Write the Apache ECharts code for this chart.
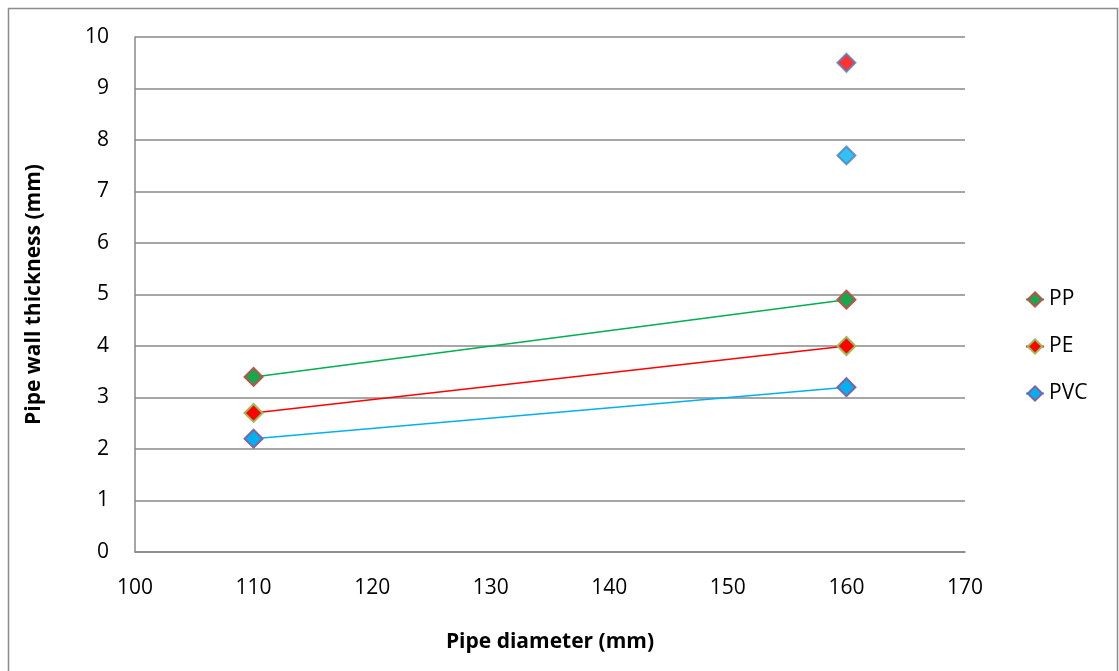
<!DOCTYPE html>
<html>
<head>
<meta charset="utf-8">
<script src="https://cdn.jsdelivr.net/npm/echarts@6/dist/echarts.min.js"></script>
<style>
  html, body { margin: 0; padding: 0; background: #fff; }
  #chart { width: 1119px; height: 671px; }
</style>
</head>
<body>
<div id="chart"></div>
<script>
const seriesNames = ['PP', 'PE', 'PVC'];
const diameters = [110, 160];
const ppValues = [3.4, 4.9];
const peValues = [2.7, 4.0];
const pvcValues = [2.2, 3.2];
const extraRed = [[160, 9.5]];
const extraBlue = [[160, 7.7]];

const font = '"Open Sans", Lato, sans-serif';

function pairs(values) {
  return diameters.map((d, i) => [d, values[i]]);
}

function lineSeries(name, values, fill, border, lineColor) {
  return {
    name,
    type: 'line',
    data: pairs(values),
    symbol: 'diamond',
    symbolSize: 18,
    itemStyle: { color: fill, borderColor: border, borderWidth: 2 },
    lineStyle: { color: lineColor, width: 1.5 },
    z: 3
  };
}

const chart = echarts.init(document.getElementById('chart'));
chart.setOption({
  animation: false,
  textStyle: { fontFamily: font },
  graphic: [{
    type: 'rect',
    shape: { x: 8.5, y: 8.5, width: 1109, height: 700 },
    style: { fill: 'none', stroke: '#8c8c8c', lineWidth: 1.5 },
    silent: true
  }],
  grid: { left: 135, right: 154, top: 37, bottom: 119 },
  legend: {
    data: seriesNames,
    orient: 'vertical',
    left: 1020,
    top: 284,
    itemWidth: 18,
    itemHeight: 18,
    itemGap: 26,
    textStyle: { fontSize: 21, color: '#000', fontFamily: font }
  },
  xAxis: {
    type: 'value',
    min: 100,
    max: 170,
    interval: 10,
    name: 'Pipe diameter (mm)',
    nameLocation: 'middle',
    nameGap: 80,
    nameTextStyle: { fontSize: 21, fontWeight: 'bold', color: '#000' },
    axisLine: { show: true, lineStyle: { color: '#888', width: 1.5 } },
    axisTick: { show: false },
    axisLabel: { fontSize: 21, color: '#000', margin: 26 },
    splitLine: { show: false }
  },
  yAxis: {
    type: 'value',
    min: 0,
    max: 10,
    interval: 1,
    name: 'Pipe wall thickness (mm)',
    nameLocation: 'middle',
    nameGap: 90,
    nameTextStyle: { fontSize: 21, fontWeight: 'bold', color: '#000' },
    axisLine: { show: true, lineStyle: { color: '#888', width: 1.5 } },
    axisTick: { show: false },
    axisLabel: { fontSize: 21, color: '#000', margin: 26 },
    splitLine: { show: true, lineStyle: { color: '#888', width: 1.5 } }
  },
  series: [
    lineSeries('PP', ppValues, '#1aa64a', '#c0504d', '#00b050'),
    lineSeries('PE', peValues, '#ff0000', '#9bbb59', '#ff0000'),
    lineSeries('PVC', pvcValues, '#00b0f0', '#8064a2', '#00b0f0'),
    {
      name: 'extra1',
      type: 'scatter',
      data: extraRed,
      symbol: 'diamond',
      symbolSize: 18,
      itemStyle: { color: '#ff0000', borderColor: '#4f81bd', borderWidth: 2 },
      z: 3
    },
    {
      name: 'extra2',
      type: 'scatter',
      data: extraBlue,
      symbol: 'diamond',
      symbolSize: 18,
      itemStyle: { color: '#00b0f0', borderColor: '#4f81bd', borderWidth: 2 },
      z: 3
    }
  ]
});
</script>
</body>
</html>
